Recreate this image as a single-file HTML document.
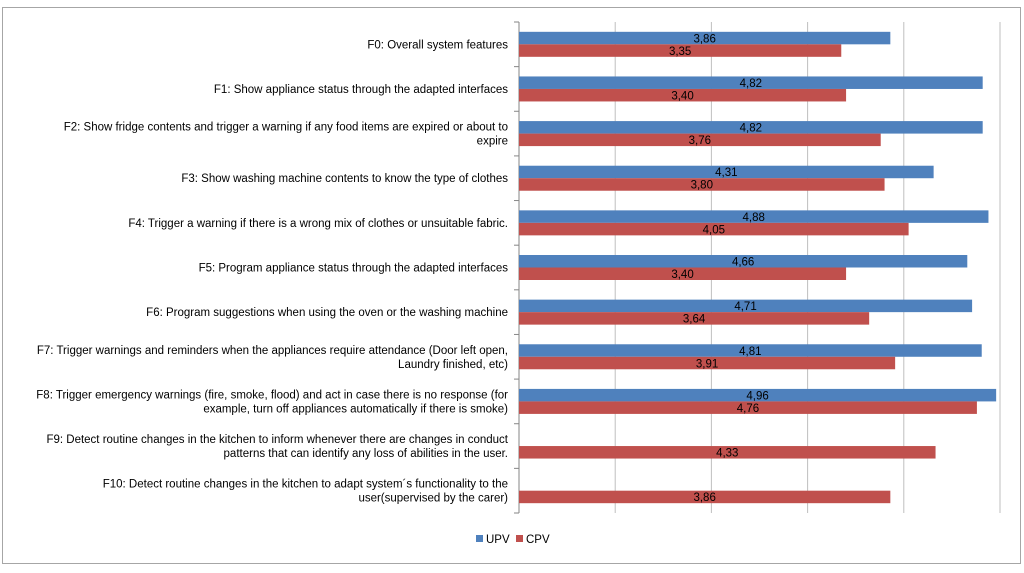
<!DOCTYPE html>
<html><head><meta charset="utf-8"><style>
body{margin:0;background:#fff;width:1024px;height:568px;overflow:hidden;font-family:"Liberation Sans",sans-serif}
</style></head><body>
<svg id="c" width="1024" height="568" xmlns="http://www.w3.org/2000/svg">
<rect x="2.5" y="7.5" width="1018" height="556" fill="#fff" stroke="#a6a6a6"/>
</svg>
<script>
const categories=[
["F0: Overall system features"],
["F1: Show appliance status through the adapted interfaces"],
["F2: Show fridge contents and trigger a warning if any food items are expired or about to","expire"],
["F3: Show washing machine contents to know the type of clothes"],
["F4: Trigger a warning if there is a wrong mix of clothes or unsuitable fabric."],
["F5: Program appliance status  through the adapted interfaces"],
["F6: Program suggestions when using the oven or the washing machine"],
["F7: Trigger warnings and reminders when the appliances require attendance (Door left open,","Laundry finished, etc)"],
["F8: Trigger emergency warnings (fire, smoke, flood) and act in case there is no response (for","example, turn off appliances automatically if there is smoke)"],
["F9: Detect routine changes in the kitchen to inform whenever there are changes in conduct","patterns that can identify any loss of abilities in the user."],
["F10: Detect routine changes in the kitchen to adapt system´s functionality to the","user(supervised by the carer)"]];
const upv=[3.86,4.82,4.82,4.31,4.88,4.66,4.71,4.81,4.96,null,null];
const cpv=[3.35,3.40,3.76,3.80,4.05,3.40,3.64,3.91,4.76,4.33,3.86];
const xTicks=[0,1,2,3,4,5];
const svg=document.getElementById('c');const NS='http://www.w3.org/2000/svg';
const L=519,R=1000,T=22,B=513,band=(B-T)/categories.length;
const xs=v=>L+v/5*(R-L);
function mk(t,a,p){const e=document.createElementNS(NS,t);for(const k in a)e.setAttribute(k,a[k]);(p||svg).appendChild(e);return e;}
xTicks.forEach(v=>{if(v>0){const g=mk('line',{x1:xs(v),x2:xs(v),y1:T,y2:B,stroke:'#bfbfbf'});

}});
const ax=mk('line',{x1:L,x2:L,y1:T,y2:B,stroke:'#868686'});


for(let i=0;i<=categories.length;i++){const t=mk('line',{x1:L-5,x2:L,y1:T+i*band,y2:T+i*band,stroke:'#868686'});

}
const fmt=v=>v.toFixed(2).replace('.',',');
categories.forEach((c,i)=>{const cy=T+band*(i+0.5);
const tx=mk('text',{x:508,'text-anchor':'end','font-size':'11.5',fill:'#000'});


c.forEach((ln,j)=>{const ts=mk('tspan',{x:508,y:cy+4+(j-(c.length-1)/2)*14},tx);ts.textContent=ln;});
[[upv[i],'#4f81bd',cy-12.5,'upv'],[cpv[i],'#c0504d',cy,'cpv']].forEach(([v,col,y,n])=>{if(v==null)return;
const r=mk('rect',{x:L,y:y,width:xs(v)-L,height:12.5,fill:col});


const lb=mk('text',{x:(L+xs(v))/2,y:y+10.5,'text-anchor':'middle','font-size':'11.5',fill:'#000'});


lb.textContent=fmt(v);});});
[['UPV','#4f81bd',476],['CPV','#c0504d',516]].forEach(([n,col,x])=>{
const s=mk('rect',{x:x,y:535,width:7,height:7,fill:col});


const t=mk('text',{x:x+10,y:543,'font-size':'11.5',fill:'#000'});


t.textContent=n;});
</script>
</body></html>
